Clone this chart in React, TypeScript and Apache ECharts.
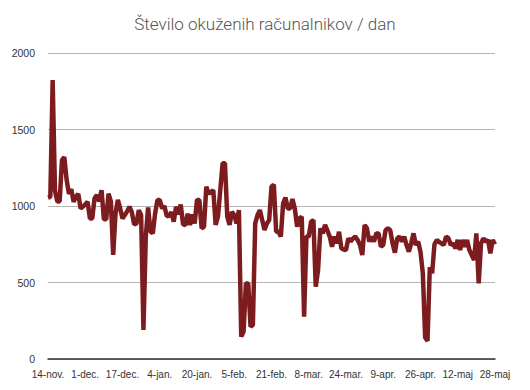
import React, { useEffect, useRef } from "react";
import * as echarts from "echarts";

const titleText = "Število okuženih računalnikov / dan";

const tickLabels = [
  "14-nov.", "1-dec.", "17-dec.", "4-jan.", "20-jan.", "5-feb.", "21-feb.",
  "8-mar.", "24-mar.", "9-apr.", "26-apr.", "12-maj", "28-maj",
];

const yTicks = [0, 500, 1000, 1500, 2000];

const infected = [
  1055, 1060, 1823, 1100, 1030, 1030, 1300, 1320, 1170, 1080,
  1110, 1028, 1060, 1080, 984, 995, 1010, 1028, 919, 919,
  1050, 1072, 1030, 1104, 913, 913, 1080, 1030, 680, 950,
  1040, 984, 919, 941, 965, 995, 960, 880, 885, 973,
  940, 190, 800, 990, 835, 821, 950, 1039, 1039, 984,
  1000, 935, 935, 960, 897, 995, 945, 1010, 880, 876,
  950, 876, 945, 886, 1039, 1039, 854, 865, 1126, 1082,
  1090, 1104, 876, 930, 1104, 1280, 1280, 930, 876, 962,
  940, 886, 973, 146, 180, 494, 494, 211, 222, 886,
  941, 973, 908, 843, 886, 908, 1126, 1140, 832, 832,
  800, 1017, 1055, 984, 984, 1045, 984, 865, 919, 930,
  277, 800, 800, 897, 908, 473, 581, 854, 821, 876,
  840, 800, 734, 800, 756, 832, 723, 715, 712, 788,
  770, 788, 800, 778, 745, 680, 876, 854, 767, 800,
  767, 821, 821, 734, 745, 843, 854, 843, 756, 695,
  788, 800, 767, 800, 745, 701, 756, 821, 745, 767,
  700, 560, 140, 118, 600, 560, 750, 778, 765, 756,
  745, 800, 790, 745, 756, 723, 778, 712, 778, 734,
  778, 712, 680, 647, 821, 494, 756, 788, 767, 778,
  690, 778, 750,
];

const LABEL_EVERY = 16;

export default function App() {
  const ref = useRef<HTMLDivElement>(null);
  useEffect(() => {
    document.body.style.margin = "0";
    if (!ref.current) return;
    const chart = echarts.init(ref.current, undefined, { renderer: "svg" });
    const categories = infected.map((_, i) =>
      i % LABEL_EVERY === 0 ? tickLabels[i / LABEL_EVERY] ?? "" : ""
    );
    chart.setOption({
      animation: false,
      backgroundColor: "#ffffff",
      title: {
        text: titleText,
        left: "center",
        top: 15,
        padding: 0,
        textStyle: {
          fontFamily: "Roboto",
          fontWeight: 300,
          fontSize: 17,
          color: "#555555",
        },
      },
      grid: { left: 48, right: 35, top: 53, bottom: 31, containLabel: false },
      xAxis: {
        type: "category",
        data: categories,
        boundaryGap: false,
        axisLine: { show: true, lineStyle: { color: "#333333", width: 1.5 } },
        axisTick: { show: false },
        axisLabel: {
          interval: LABEL_EVERY - 1,
          margin: 10,
          fontFamily: "Liberation Sans",
          fontSize: 10,
          color: "#333333",
        },
        splitLine: { show: false },
      },
      yAxis: {
        type: "value",
        min: yTicks[0],
        max: yTicks[yTicks.length - 1],
        interval: 500,
        axisLine: { show: false },
        axisTick: { show: false },
        axisLabel: {
          margin: 13,
          fontFamily: "Liberation Sans",
          fontSize: 10.5,
          color: "#333333",
          formatter: (v: number) => String(v),
        },
        splitLine: { show: true, lineStyle: { color: "#b5b5b5", width: 1 } },
      },
      series: [
        {
          type: "line",
          data: infected,
          symbol: "none",
          lineStyle: { color: "#7d1c1f", width: 4.5 },
          z: 3,
        },
      ],
    });
    return () => chart.dispose();
  }, []);
  return <div ref={ref} style={{ width: 530, height: 390 }} />;
}
